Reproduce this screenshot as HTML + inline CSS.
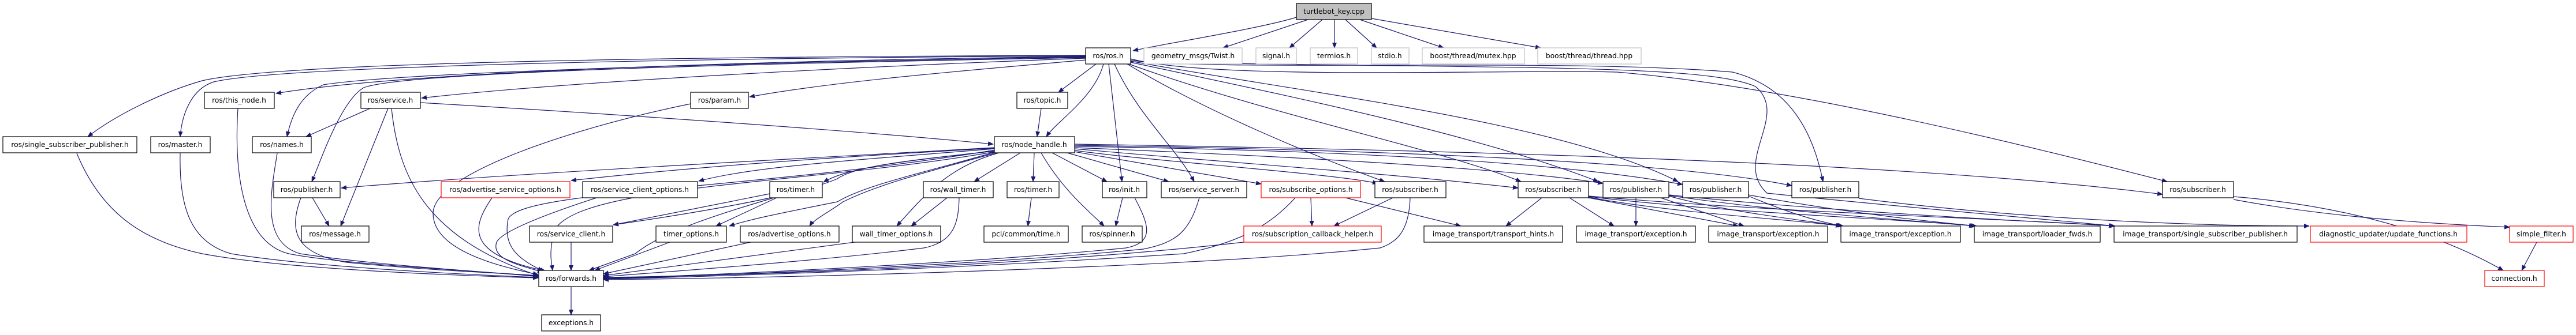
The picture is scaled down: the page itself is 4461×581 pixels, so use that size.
<!DOCTYPE html>
<html><head><meta charset="utf-8"><style>
html,body{margin:0;padding:0;background:#fff;width:4461px;height:581px;overflow:hidden}
svg{display:block}
text{font-family:"DejaVu Sans","Liberation Sans",sans-serif;font-size:12.3px;fill:#000;text-anchor:middle}
.e{fill:none;stroke:#191970;stroke-width:1.2;marker-end:url(#a)}
.n{fill:#fff;stroke:#000;stroke-width:1.2}
.r{fill:#fff;stroke:#ff0000;stroke-width:1.2}
.g{fill:#fff;stroke:#bfbfbf;stroke-width:1.2}
</style></head><body>
<svg width="4461" height="581" viewBox="0 0 4461 581" xmlns="http://www.w3.org/2000/svg">
<defs><marker id="a" markerWidth="10" markerHeight="8" refX="9" refY="4" orient="auto" markerUnits="userSpaceOnUse"><path d="M0,0 L10,4 L0,8 z" fill="#191970"/></marker></defs>
<g>
<!-- root -->
<path class="e" d="M2245,30 C2180,50 2020,75 1962,88"/>
<path class="e" d="M2265,34 L2118,83"/>
<path class="e" d="M2290,34 L2233,83"/>
<path class="e" d="M2311,34 L2311,83"/>
<path class="e" d="M2330,34 L2384,83"/>
<path class="e" d="M2355,34 L2500,83"/>
<path class="e" d="M2375,32 L2668,83"/>
<!-- ros.h -->
<path class="e" d="M1880,96 C1300,98 500,105 350,140 C280,160 200,200 152,237"/>
<path class="e" d="M1880,97 C1300,100 500,112 370,142 C330,155 315,200 312,237"/>
<path class="e" d="M1880,98 C1300,105 700,125 478,162"/>
<path class="e" d="M1880,99 C1300,108 700,125 560,147 C520,165 505,200 497,237"/>
<path class="e" d="M1880,100 C1300,110 700,125 630,152 C590,175 555,280 540,315"/>
<path class="e" d="M1880,101 C1500,115 1000,140 730,170"/>
<path class="e" d="M1880,104 C1700,120 1450,140 1298,168"/>
<path class="e" d="M1898,111 L1833,160"/>
<path class="e" d="M1911,111 C1895,170 1830,210 1812,237"/>
<path class="e" d="M1920,111 L1943,315"/>
<path class="e" d="M1930,111 C1970,200 2040,260 2068,315"/>
<path class="e" d="M1952,111 C2100,200 2300,280 2398,315"/>
<path class="e" d="M1955,111 C2200,200 2500,260 2634,315"/>
<path class="e" d="M1958,108 C2200,160 2550,230 2768,315"/>
<path class="e" d="M1958,106 C2250,160 2700,210 2906,315"/>
<path class="e" d="M1958,104 C2100,125 2700,100 3000,125 C3100,150 3140,230 3157,315"/>
<path class="e" d="M1958,102 C2100,140 2600,120 2800,125 C3100,150 3500,250 3753,315"/>
<!-- service, param, etc -->
<path class="e" d="M728,178 C1100,200 1500,228 1720,250"/>
<path class="e" d="M641,188 L530,237"/>
<path class="e" d="M672,188 L590,392"/>
<path class="e" d="M678,188 C690,300 730,410 932,478"/>
<path class="e" d="M1196,180 C1000,220 750,300 750,370 C750,430 850,460 932,476"/>
<path class="e" d="M412,188 C405,300 420,420 500,440 C600,460 850,470 932,480"/>
<path class="e" d="M312,266 C310,360 330,420 400,440 C550,465 850,478 932,481"/>
<path class="e" d="M133,266 C180,380 260,420 350,440 C500,468 800,478 932,482"/>
<path class="e" d="M480,266 C470,330 450,420 520,440 C650,460 850,472 932,479"/>
<path class="e" d="M521,343 C500,400 510,440 600,455 C750,470 900,475 932,478"/>
<path class="e" d="M541,343 L570,392"/>
<path class="e" d="M1803,188 L1796,237"/>
<!-- node_handle -->
<path class="e" d="M1722,256 C1300,280 900,300 591,326"/>
<path class="e" d="M1722,257 C1400,275 1200,290 989,313"/>
<path class="e" d="M1722,258 C1450,280 1300,290 1210,314"/>
<path class="e" d="M1722,262 C1560,280 1470,290 1426,316"/>
<path class="e" d="M1722,262 C1550,280 1480,290 1450,310 C1380,340 1200,370 1062,390"/>
<path class="e" d="M1722,264 C1600,300 1500,320 1450,350 C1350,370 1300,380 1263,392"/>
<path class="e" d="M1725,265 C1600,300 1520,320 1460,350 C1440,365 1410,380 1402,392"/>
<path class="e" d="M1730,265 C1640,290 1600,340 1553,392"/>
<path class="e" d="M1724,263 C1400,320 1000,320 960,400 C950,440 955,455 957,469"/>
<path class="e" d="M1724,260 C1300,330 900,330 880,380 C870,430 900,450 940,470"/>
<path class="e" d="M1767,265 L1687,315"/>
<path class="e" d="M1791,265 L1789,315"/>
<path class="e" d="M1803,265 C1840,330 1890,370 1912,392"/>
<path class="e" d="M1822,265 L1917,315"/>
<path class="e" d="M1848,265 L2024,315"/>
<path class="e" d="M1860,263 L2184,319"/>
<path class="e" d="M1861,261 C2000,280 2300,300 2386,318"/>
<path class="e" d="M1861,258 C2100,280 2400,300 2629,326"/>
<path class="e" d="M1861,256 C2200,270 2600,290 2776,318"/>
<path class="e" d="M1861,254 C2300,260 2700,280 2914,320"/>
<path class="e" d="M1861,252 C2400,260 2900,280 3103,322"/>
<path class="e" d="M1861,250 C2500,260 3300,280 3745,337"/>
<path class="e" d="M1958,107 C2600,120 2950,110 3040,150 C3100,200 3000,280 3060,335 C3300,360 3600,385 3661,392"/>
<!-- lower -->
<path class="e" d="M1345,343 L1240,392"/>
<path class="e" d="M1333,336 L1062,390"/>
<path class="e" d="M1340,343 C1250,370 1150,400 1100,440 L1020,469"/>
<path class="e" d="M989,420 L989,469"/>
<path class="e" d="M1160,420 L1030,469"/>
<path class="e" d="M1300,420 L1045,475"/>
<path class="e" d="M1480,420 L1045,478"/>
<path class="e" d="M852,343 C820,390 800,440 945,470"/>
<path class="e" d="M1033,343 C950,370 870,400 860,420 C850,450 900,460 940,472"/>
<path class="e" d="M1640,343 L1578,392"/>
<path class="e" d="M1661,343 C1660,390 1650,420 1600,430 C1400,455 1100,475 1045,480"/>
<path class="e" d="M1786,343 L1780,392"/>
<path class="e" d="M1944,343 L1932,392"/>
<path class="e" d="M1965,343 C1990,390 2000,420 1950,430 C1700,455 1200,480 1045,482"/>
<path class="e" d="M2077,343 C2060,400 2040,420 1980,432 C1700,460 1200,480 1045,483"/>
<path class="e" d="M2270,343 L2272,392"/>
<path class="e" d="M2330,343 L2530,392"/>
<path class="e" d="M2243,343 C2200,390 2150,420 2050,440 C1600,470 1200,480 1045,484"/>
<path class="e" d="M2412,343 L2310,392"/>
<path class="e" d="M2442,343 C2440,400 2420,420 2390,430 C2100,460 1500,480 1045,485"/>
<path class="e" d="M2154,420 C1800,460 1300,478 1045,481"/>
<path class="e" d="M2670,343 L2608,392"/>
<path class="e" d="M2718,343 L2795,392"/>
<path class="e" d="M2751,343 L3010,392"/>
<path class="e" d="M2751,342 C2900,370 3100,380 3188,392"/>
<path class="e" d="M2751,341 C3000,370 3300,380 3419,392"/>
<path class="e" d="M2751,340 C3100,370 3500,380 3661,392"/>
<path class="e" d="M2833,343 L2833,392"/>
<path class="e" d="M2876,343 L3020,392"/>
<path class="e" d="M2890,340 C3000,370 3150,385 3190,392"/>
<path class="e" d="M2890,339 C3100,370 3350,385 3421,392"/>
<path class="e" d="M2890,338 C3200,370 3550,385 3663,392"/>
<path class="e" d="M3028,340 C3100,370 3150,385 3192,392"/>
<path class="e" d="M3028,338 C3200,370 3350,385 3423,392"/>
<path class="e" d="M3219,344 C3500,380 3800,392 3999,392"/>
<path class="e" d="M3868,346 C4050,380 4250,390 4346,394"/>
<path class="e" d="M3868,341 C4100,360 4250,420 4335,469"/>
<path class="e" d="M4393,420 L4367,469"/>
<path class="e" d="M989,498 L989,546"/>
</g>
<g>
<rect x="2245" y="6" width="130" height="28" fill="#bfbfbf" stroke="#000" stroke-width="1.2"/><text x="2310" y="24">turtlebot_key.cpp</text>
<rect class="n" x="1880" y="83" width="78" height="28"/><text x="1919" y="101">ros/ros.h</text>
<rect class="g" x="1981" y="83" width="170" height="28"/><text x="2066" y="101">geometry_msgs/Twist.h</text>
<rect class="g" x="2175" y="83" width="70" height="28"/><text x="2210" y="101">signal.h</text>
<rect class="g" x="2269" y="83" width="82" height="28"/><text x="2310" y="101">termios.h</text>
<rect class="g" x="2375" y="83" width="65" height="28"/><text x="2407" y="101">stdio.h</text>
<rect class="g" x="2463" y="83" width="177" height="28"/><text x="2551" y="101">boost/thread/mutex.hpp</text>
<rect class="g" x="2663" y="83" width="179" height="28"/><text x="2752" y="101">boost/thread/thread.hpp</text>
<rect class="n" x="354" y="160" width="121" height="28"/><text x="414" y="178">ros/this_node.h</text>
<rect class="n" x="625" y="160" width="103" height="28"/><text x="676" y="178">ros/service.h</text>
<rect class="n" x="1196" y="160" width="100" height="28"/><text x="1246" y="178">ros/param.h</text>
<rect class="n" x="1761" y="160" width="88" height="28"/><text x="1805" y="178">ros/topic.h</text>
<rect class="n" x="5" y="237" width="232" height="28"/><text x="121" y="255">ros/single_subscriber_publisher.h</text>
<rect class="n" x="261" y="237" width="103" height="28"/><text x="312" y="255">ros/master.h</text>
<rect class="n" x="437" y="237" width="102" height="28"/><text x="488" y="255">ros/names.h</text>
<rect class="n" x="1722" y="237" width="139" height="28"/><text x="1791" y="255">ros/node_handle.h</text>
<rect class="n" x="474" y="315" width="115" height="28"/><text x="531" y="333">ros/publisher.h</text>
<rect class="r" x="764" y="315" width="223" height="28"/><text x="875" y="333">ros/advertise_service_options.h</text>
<rect class="n" x="1009" y="315" width="199" height="28"/><text x="1108" y="333">ros/service_client_options.h</text>
<rect class="n" x="1333" y="315" width="91" height="28"/><text x="1378" y="333">ros/timer.h</text>
<rect class="n" x="1599" y="315" width="121" height="28"/><text x="1659" y="333">ros/wall_timer.h</text>
<rect class="n" x="1744" y="315" width="90" height="28"/><text x="1789" y="333">ros/timer.h</text>
<rect class="n" x="1909" y="315" width="77" height="28"/><text x="1947" y="333">ros/init.h</text>
<rect class="n" x="2011" y="315" width="148" height="28"/><text x="2085" y="333">ros/service_server.h</text>
<rect class="r" x="2184" y="315" width="172" height="28"/><text x="2270" y="333">ros/subscribe_options.h</text>
<rect class="n" x="2381" y="315" width="123" height="28"/><text x="2442" y="333">ros/subscriber.h</text>
<rect class="n" x="2629" y="315" width="122" height="28"/><text x="2690" y="333">ros/subscriber.h</text>
<rect class="n" x="2776" y="315" width="114" height="28"/><text x="2833" y="333">ros/publisher.h</text>
<rect class="n" x="2914" y="315" width="114" height="28"/><text x="2971" y="333">ros/publisher.h</text>
<rect class="n" x="3103" y="315" width="116" height="28"/><text x="3161" y="333">ros/publisher.h</text>
<rect class="n" x="3745" y="315" width="123" height="28"/><text x="3806" y="333">ros/subscriber.h</text>
<rect class="n" x="522" y="392" width="117" height="28"/><text x="580" y="410">ros/message.h</text>
<rect class="n" x="917" y="392" width="144" height="28"/><text x="989" y="410">ros/service_client.h</text>
<rect class="n" x="1136" y="392" width="122" height="28"/><text x="1197" y="410">timer_options.h</text>
<rect class="n" x="1282" y="392" width="171" height="28"/><text x="1367" y="410">ros/advertise_options.h</text>
<rect class="n" x="1476" y="392" width="153" height="28"/><text x="1552" y="410">wall_timer_options.h</text>
<rect class="n" x="1704" y="392" width="146" height="28"/><text x="1777" y="410">pcl/common/time.h</text>
<rect class="n" x="1874" y="392" width="104" height="28"/><text x="1926" y="410">ros/spinner.h</text>
<rect class="r" x="2154" y="392" width="238" height="28"/><text x="2273" y="410">ros/subscription_callback_helper.h</text>
<rect class="n" x="2466" y="392" width="240" height="28"/><text x="2586" y="410">image_transport/transport_hints.h</text>
<rect class="n" x="2730" y="392" width="206" height="28"/><text x="2833" y="410">image_transport/exception.h</text>
<rect class="n" x="2959" y="392" width="206" height="28"/><text x="3062" y="410">image_transport/exception.h</text>
<rect class="n" x="3188" y="392" width="207" height="28"/><text x="3291" y="410">image_transport/exception.h</text>
<rect class="n" x="3419" y="392" width="218" height="28"/><text x="3528" y="410">image_transport/loader_fwds.h</text>
<rect class="n" x="3661" y="392" width="317" height="28"/><text x="3819" y="410">image_transport/single_subscriber_publisher.h</text>
<rect class="r" x="4001" y="392" width="271" height="28"/><text x="4136" y="410">diagnostic_updater/update_functions.h</text>
<rect class="r" x="4346" y="392" width="110" height="28"/><text x="4401" y="410">simple_filter.h</text>
<rect class="n" x="933" y="469" width="112" height="28"/><text x="989" y="487">ros/forwards.h</text>
<rect class="r" x="4303" y="469" width="103" height="28"/><text x="4354" y="487">connection.h</text>
<rect class="n" x="938" y="546" width="102" height="28"/><text x="989" y="564">exceptions.h</text>
</g>
</svg>
</body></html>
